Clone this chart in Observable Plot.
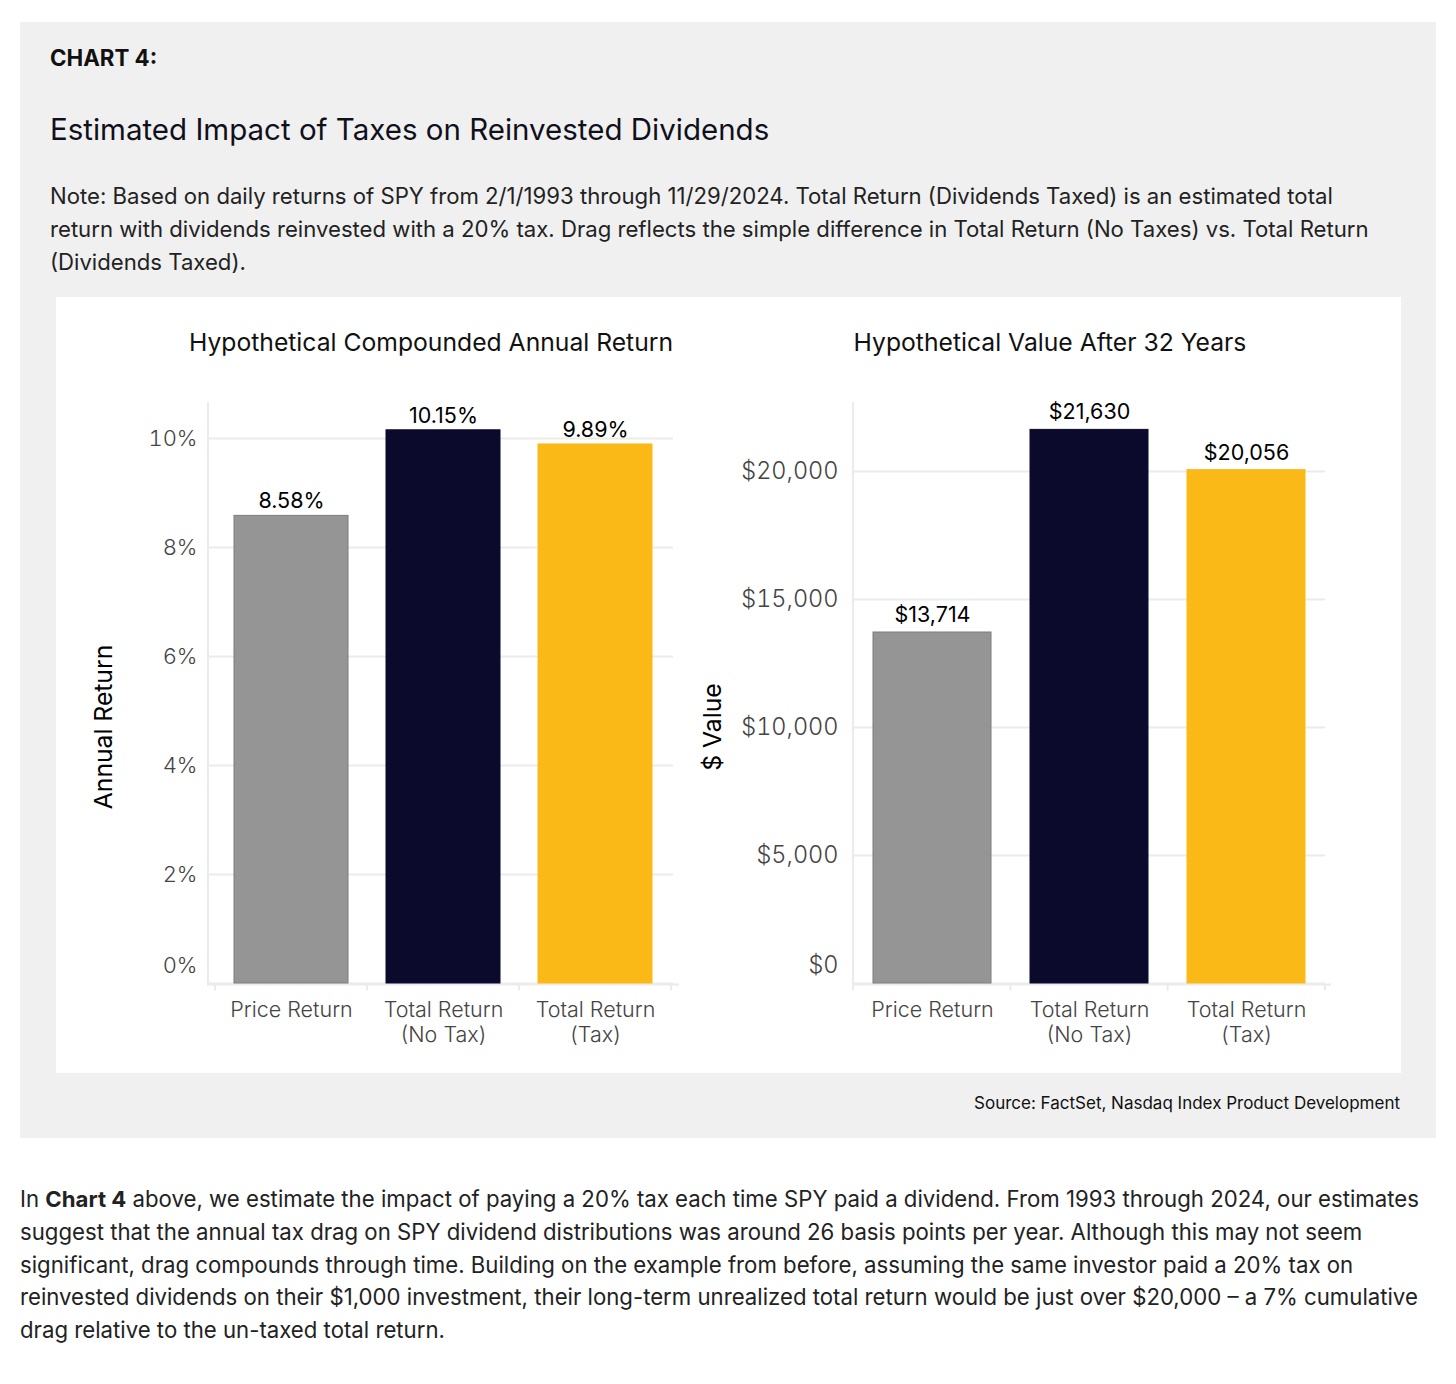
<!DOCTYPE html>
<html>
<head>
<meta charset="utf-8">
<script src="https://cdn.jsdelivr.net/npm/d3@7"></script>
<script src="https://cdn.jsdelivr.net/npm/@observablehq/plot@0.6"></script>
<style>
  html, body { margin: 0; padding: 0; background: #ffffff; }
  body { position: relative; width: 1456px; height: 1384px; font-family: Inter, "Noto Sans", sans-serif; color: #111; }
  .abs { position: absolute; white-space: nowrap; }
  #box { position: absolute; left: 20px; top: 22px; width: 1416px; height: 1116px; background: #f0f0f0; }
  #panel { position: absolute; left: 56px; top: 297px; width: 1345px; height: 776px; background: #ffffff; }
  #kicker { left: 50px; top: 44px; font-size: 22.3px; font-weight: 700; line-height: 28px; }
  #title { left: 50px; top: 111px; font-size: 29.5px; line-height: 36px; color: #10101c; }
  #note { left: 50px; top: 180px; font-size: 22.15px; line-height: 33px; color: #222; }
  .ptitle { top: 327px; font-size: 24.7px; line-height: 30px; color: #111; transform: translateX(-50%); }
  #source { right: 56px; top: 1092px; font-size: 17px; line-height: 22px; color: #111; }
  #para { left: 20px; top: 1183px; font-size: 22.2px; line-height: 32.8px; color: #222; }
  #chartL { position: absolute; left: 56px; top: 380px; }
  #chartR { position: absolute; left: 690px; top: 380px; }
</style>
</head>
<body>
<div id="box"></div>
<div id="panel"></div>
<div id="kicker" class="abs">CHART 4:</div>
<div id="title" class="abs">Estimated Impact of Taxes on Reinvested Dividends</div>
<div id="note" class="abs">Note: Based on daily returns of SPY from 2/1/1993 through 11/29/2024. Total Return (Dividends Taxed) is an estimated total<br>return with dividends reinvested with a 20% tax. Drag reflects the simple difference in Total Return (No Taxes) vs. Total Return<br>(Dividends Taxed).</div>
<div class="abs ptitle" style="left:431px">Hypothetical Compounded Annual Return</div>
<div class="abs ptitle" style="left:1050px">Hypothetical Value After 32 Years</div>
<div id="chartL"></div>
<div id="chartR"></div>
<div id="source" class="abs">Source: FactSet, Nasdaq Index Product Development</div>
<div id="para" class="abs">In <b>Chart 4</b> above, we estimate the impact of paying a 20% tax each time SPY paid a dividend. From 1993 through 2024, our estimates<br>suggest that the annual tax drag on SPY dividend distributions was around 26 basis points per year. Although this may not seem<br>significant, drag compounds through time. Building on the example from before, assuming the same investor paid a 20% tax on<br>reinvested dividends on their $1,000 investment, their long-term unrealized total return would be just over $20,000 – a 7% cumulative<br>drag relative to the un-taxed total return.</div>

<script>
// ---- data ----
const categories = ["Price Return", "Total Return\n(No Tax)", "Total Return\n(Tax)"];
const annualReturn = [8.58, 10.15, 9.89];          // percent
const valueAfter32 = [13714, 21630, 20056];        // dollars
const returnTicks = [0, 2, 4, 6, 8, 10];
const valueTicks = [0, 5000, 10000, 15000, 20000];
const barColors = ["#959595", "#0b0a2d", "#fbb917"];
const barStrokes = ["#7d7d7d", "#0b0a2d", "#fbb917"];

const GRID = "#ebebeb";
const PAD_INNER = 0.25, PAD_OUTER = 0.125;

function makeAxisLines(insetLeft, insetRight) {
  return function (index, scales, values, dims) {
    const ns = "http://www.w3.org/2000/svg";
    const g = document.createElementNS(ns, "g");
    const left = dims.marginLeft;
    const right = dims.width - dims.marginRight;
    const top = dims.marginTop;
    const y0 = scales.y(0) + 1.5;
    const add = (x1, y1, x2, y2) => {
      const l = document.createElementNS(ns, "line");
      l.setAttribute("x1", x1); l.setAttribute("y1", y1);
      l.setAttribute("x2", x2); l.setAttribute("y2", y2);
      l.setAttribute("stroke", GRID); l.setAttribute("stroke-width", 2);
      g.appendChild(l);
    };
    add(left, top, left, y0 + 1);
    add(left - 1, y0, right + 6, y0);
    // band edges: with these paddings the range holds exactly n steps
    const r0 = left + insetLeft, r1 = right - insetRight;
    const n = categories.length;
    const step = (r1 - r0) / (n - PAD_INNER + 2 * PAD_OUTER);
    for (let i = 0; i <= n; i++) {
      const e = r0 + step * (PAD_OUTER - PAD_INNER / 2) + i * step;
      add(e, y0, e, y0 + 6);
    }
    return g;
  };
}

function barChart({values, ticks, tickFormat, labelFormat, yTop, yLabel, width, marginLeft, marginRight, insetLeft, insetRight, labelDx, tickPadding, tickFontSize, valueDy}) {
  const data = categories.map((c, i) => ({cat: c, v: values[i], color: barColors[i], stroke: barStrokes[i]}));
  const tickStyle = {tickSize: 0, tickPadding, tickFormat, fontSize: tickFontSize, fontWeight: 300, color: "#444", label: null};
  return Plot.plot({
    width, height: 690,
    marginLeft, marginRight, marginTop: 22, marginBottom: 87,
    style: {fontFamily: "Inter, 'Noto Sans', sans-serif", background: "transparent", overflow: "visible"},
    x: {domain: categories, paddingInner: PAD_INNER, paddingOuter: PAD_OUTER, insetLeft, insetRight, axis: null},
    y: {domain: [0, yTop], axis: null},
    color: {type: "identity"},
    marks: [
      Plot.gridY(ticks, {stroke: GRID, strokeOpacity: 1, strokeWidth: 2}),
      makeAxisLines(insetLeft, insetRight),
      Plot.axisY(ticks.filter(t => t !== 0), tickStyle),
      Plot.axisY(ticks.filter(t => t === 0), {...tickStyle, dy: -18}),
      Plot.barY(data, {x: "cat", y: "v", fill: "color", stroke: "stroke", strokeWidth: 1}),
      Plot.text(data, {x: "cat", y: "v", text: d => labelFormat(d.v), lineAnchor: "bottom", dy: valueDy, fontSize: 21.5, fill: "#000"}),
      Plot.text(data, {x: "cat", y: () => 0, text: "cat", lineAnchor: "top", dy: 16, lineHeight: 1.15, fontSize: 21.5, fontWeight: 300, fill: "#444"}),
      Plot.text([yLabel], {frameAnchor: "left", textAnchor: "middle", rotate: -90, dx: labelDx, dy: 34, fontSize: 24.7, fill: "#000"})
    ]
  });
}

document.getElementById("chartL").append(barChart({
  values: annualReturn,
  ticks: returnTicks,
  tickFormat: d => d + "%",
  labelFormat: d => d.toFixed(2) + "%",
  yTop: 10.66,
  yLabel: "Annual Return",
  width: 634, marginLeft: 152, marginRight: 17,
  insetLeft: 7, insetRight: 2,
  labelDx: -104, tickPadding: 11, tickFontSize: 22, valueDy: -7.5
}));

document.getElementById("chartR").append(barChart({
  values: valueAfter32,
  ticks: valueTicks,
  tickFormat: d => "$" + d3.format(",")(d),
  labelFormat: d => "$" + d3.format(",")(d),
  yTop: 22700,
  yLabel: "$ Value",
  width: 711, marginLeft: 163, marginRight: 76,
  insetLeft: 0, insetRight: 0,
  labelDx: -140, tickPadding: 15, tickFontSize: 23.5, valueDy: -10.5
}));
</script>
</body>
</html>
